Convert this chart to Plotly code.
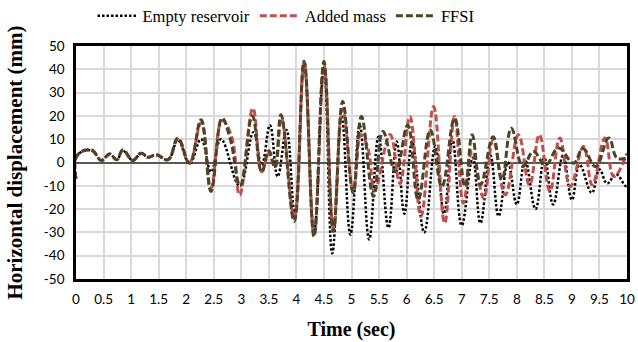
import plotly.graph_objects as go

# ---- data (time in s, displacement in mm) ----
t_empty = [0, 0.02, 0.28, 0.46, 0.61, 0.74, 0.85, 1.03, 1.18, 1.31, 1.46, 1.67, 1.85, 2.06, 2.27, 2.45,
           2.63, 2.97, 3.22, 3.37, 3.52, 3.66, 3.82, 3.97, 4.14, 4.32, 4.5, 4.65, 4.82, 4.98, 5.15,
           5.32, 5.49, 5.67, 5.82, 5.96, 6.1, 6.32, 6.52, 6.68, 6.83, 7.0, 7.2, 7.34, 7.52, 7.67,
           7.84, 8.0, 8.15, 8.34, 8.5, 8.66, 8.84, 9.0, 9.14, 9.36, 9.5, 9.64, 9.8, 9.97, 10.0]
v_empty = [-7, 3, 5.2, 1.0, 3.6, 1.2, 5.0, 1.0, 3.8, 2.3, 3.2, 1.2, 9.5, -0.5, 10, -4,
           10, -10, 13, -1, 16, -6, 14, -22, 42, -30, 41, -39, 20, -31, 16,
           -33, 11, -28, 9, -22, 9, -30, 7, -22, 10, -27, 2, -26, 3, -23,
           0, -18, 1, -20, 2, -18, 3, -16, -1, -13, -3, -9, -5, -10, -10]

t_added = [0, 0.02, 0.28, 0.46, 0.61, 0.74, 0.85, 1.03, 1.18, 1.31, 1.46, 1.67, 1.85, 2.06, 2.27, 2.45,
           2.65, 2.82, 2.97, 3.21, 3.37, 3.5, 3.61, 3.73, 3.96, 4.14, 4.32, 4.5, 4.67, 4.84, 5.03,
           5.17, 5.3, 5.42, 5.7, 5.88, 6.06, 6.26, 6.49, 6.69, 6.87, 7.03, 7.19, 7.4, 7.57, 7.79,
           8.03, 8.23, 8.41, 8.6, 8.78, 8.97, 9.21, 9.37, 9.6, 9.76, 10.0]
v_added = [-7, 3, 5.4, 0.9, 3.7, 1.2, 5.4, 0.9, 4.0, 2.3, 3.3, 1.2, 10, 0, 17, -11,
           18, 11.5, -14, 23.3, -4, 4, -2, 19, -24, 43, -31, 42, -28, 23, -12,
           12, 6, -12, 12, -9, 19.7, -23, 24, -26, 19.7, -17.4, 5, -15.3, 9.7, -13.9,
           11.9, -9.6, 11.9, -12.4, 10.5, -10.3, 6.9, -9.6, 10.5, -6, 4]

t_ffsi = [0, 0.02, 0.28, 0.46, 0.61, 0.74, 0.85, 1.03, 1.18, 1.31, 1.46, 1.67, 1.85, 2.06, 2.27, 2.45,
          2.65, 2.8, 2.98, 3.2, 3.37, 3.5, 3.61, 3.72, 3.96, 4.14, 4.32, 4.5, 4.67, 4.84, 5.03,
          5.18, 5.4, 5.57, 5.8, 6.02, 6.21, 6.43, 6.64, 6.87, 7.06, 7.19, 7.34, 7.57, 7.73, 7.9,
          8.11, 8.3, 8.52, 8.76, 9.03, 9.2, 9.43, 9.67, 9.82, 10.0]
v_ffsi = [-7, 3, 5.4, 0.9, 3.7, 1.2, 5.4, 0.9, 4.0, 2.3, 3.3, 1.2, 10.5, -0.3, 18.3, -12.4,
          19, 10, -10, 20, -4, 5, -2, 20.5, -25.3, 43.5, -31.8, 43.3, -29.6, 26.2, -13,
          19.7, -14.6, 13.3, -4, 16, -16, 14, -10.3, 19, -10.3, 11.9, -9.6, 11, -7.4, 14.7,
          -1.7, 4.7, -1, 6.2, -0.3, 6, -1.7, 10.5, 1.9, 2]

x_ticks = [i * 0.5 for i in range(21)]
x_labels = ["0", "0.5", "1", "1.5", "2", "2.5", "3", "3.5", "4", "4.5", "5", "5.5", "6", "6.5",
            "7", "7.5", "8", "8.5", "9", "9.5", "10"]
y_ticks = [50, 40, 30, 20, 10, 0, -10, -20, -30, -40, -50]
y_labels = ["50", "40", "30", "20", "10", "0", "-10", "-20", "-30", "-40", "-50"]

fig = go.Figure()
fig.add_trace(go.Scatter(x=t_empty, y=v_empty, name="Empty reservoir", mode="lines",
                         line=dict(color="#000000", width=2.5, dash="2.5px,2px", shape="spline", smoothing=1.2)))
fig.add_trace(go.Scatter(x=t_added, y=v_added, name="Added mass", mode="lines",
                         line=dict(color="#C0504D", width=3, dash="7px,3px", shape="spline", smoothing=1.2)))
fig.add_trace(go.Scatter(x=t_ffsi, y=v_ffsi, name="FFSI", mode="lines",
                         line=dict(color="#4A4526", width=3, dash="7px,3px", shape="spline", smoothing=1.2)))

tick_font = dict(family="Lato", size=13.5, color="#000000")

fig.update_layout(
    width=638, height=342,
    margin=dict(l=76, r=11, t=46, b=63, autoexpand=False),
    paper_bgcolor="white", plot_bgcolor="white",
    showlegend=True,
    legend=dict(orientation="h", x=0.03, xanchor="left", yref="container", y=1 - 16 / 342,
                yanchor="middle",
                font=dict(family="Liberation Serif", size=16.5, color="#000000"),
                bgcolor="rgba(0,0,0,0)", itemwidth=40, tracegroupgap=0),
    xaxis=dict(range=[0, 10], tickvals=x_ticks, ticktext=x_labels, tickfont=tick_font,
               showgrid=True, gridcolor="#D9D9D9", gridwidth=1.5, automargin=False,
               showline=True, linecolor="#000000", linewidth=2.5, mirror=True,
               zeroline=False, ticks="", ticklen=0, ticklabelstandoff=6,
               title=dict(text="<b>Time (sec)</b>",
                          font=dict(family="Liberation Serif", size=20, color="#000000"), standoff=17)),
    yaxis=dict(range=[-50, 50], tickvals=y_ticks, ticktext=y_labels, tickfont=tick_font,
               showgrid=True, gridcolor="#D9D9D9", gridwidth=1.5, automargin=False,
               showline=True, linecolor="#000000", linewidth=2.5, mirror=True,
               zeroline=True, zerolinecolor="#595959", zerolinewidth=1.5, ticks="",
               ticklabelstandoff=6,
               title=dict(text="<b>Horizontal displacement (mm)</b>",
                          font=dict(family="Liberation Serif", size=21, color="#000000"), standoff=16)),
)

fig.write_html("out.html")
